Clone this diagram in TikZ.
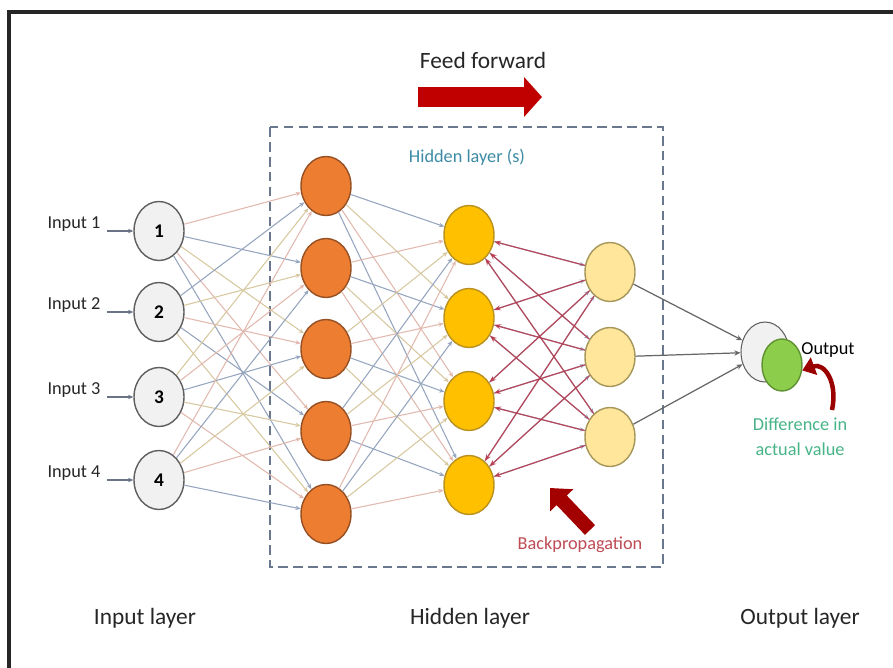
\documentclass[tikz,border=0pt]{standalone}
\usepackage{fontspec}
\setmainfont{Carlito}
\usetikzlibrary{shapes.geometric,arrows.meta}

\definecolor{inpfill}{RGB}{241,241,241}
\definecolor{inpdraw}{RGB}{95,95,95}
\definecolor{orafill}{RGB}{237,125,49}
\definecolor{oradraw}{RGB}{150,80,35}
\definecolor{yelfill}{RGB}{255,192,0}
\definecolor{yeldraw}{RGB}{185,145,30}
\definecolor{palefill}{RGB}{255,230,155}
\definecolor{paledraw}{RGB}{165,150,90}
\definecolor{grnfill}{RGB}{140,205,75}
\definecolor{grndraw}{RGB}{95,145,50}
\definecolor{edgeblue}{RGB}{150,165,190}
\definecolor{edgebeige}{RGB}{215,200,160}
\definecolor{edgepink}{RGB}{225,185,175}
\definecolor{backred}{RGB}{185,55,75}
\definecolor{arrred}{RGB}{192,0,0}
\definecolor{boxgray}{RGB}{105,120,140}
\definecolor{hidteal}{RGB}{60,140,165}
\definecolor{bptxt}{RGB}{190,75,85}
\definecolor{difftxt}{RGB}{70,180,135}

\newcommand{\layerfont}{\fontsize{13.3}{16}\selectfont}
\newcommand{\labfont}{\fontsize{10.4}{12.5}\selectfont}

\tikzset{
  neuron/.style={ellipse,draw,line width=0.8pt,minimum width=1cm,minimum height=1.18cm,inner sep=0pt},
  inp/.style={neuron,fill=inpfill,draw=inpdraw},
  hidA/.style={neuron,fill=orafill,draw=oradraw},
  hidB/.style={neuron,fill=yelfill,draw=yeldraw},
  hidC/.style={neuron,fill=palefill,draw=paledraw},
  lbl/.style={font=\labfont,text=black!85,inner sep=0pt},
  fwd0/.style={draw=edgeblue,line width=0.6pt,-{Stealth[length=3pt,width=2.5pt]}},
  fwd1/.style={draw=edgebeige,line width=0.6pt,-{Stealth[length=3pt,width=2.5pt]}},
  fwd2/.style={draw=edgepink,line width=0.6pt,-{Stealth[length=3pt,width=2.5pt]}},
  back/.style={draw=backred,line width=0.7pt,opacity=0.85,-{Stealth[length=4pt,width=3pt]}},
  outarr/.style={draw=black!60,line width=0.7pt,-{Stealth[length=3.5pt,width=3pt]}},
  inarr/.style={draw=edgeblue!70!black,line width=0.8pt,-{Stealth[length=3pt,width=2.5pt]}},
}

\begin{document}
\begin{tikzpicture}[x=0.02cm,y=-0.02cm]
\useasboundingbox (0,0) rectangle (893,668);
\fill[white] (0,0) rectangle (893,668);
\draw[black!85,line width=1.8pt] (9,668) -- (9,12) -- (893,12);

% hidden layer box
\draw[boxgray,line width=0.8pt,dash pattern=on 5.5pt off 3pt] (270,127) rectangle (663,567);
\node[font=\labfont,text=hidteal] (hidtitle) at (467,157) {Hidden layer (s)};

% input layer
\foreach \i/\y in {1/231,2/312,3/397,4/480} {
  \node[inp] (in\i) at (159,\y) {\fontsize{11}{13}\selectfont\textbf{\i}};
  \node[lbl] (inlbl\i) at (74,\y-7) {Input \i};
  \coordinate (intail\i) at (107,\y);
  \draw[inarr] (intail\i) -- (in\i);
}

% hidden layers
\foreach \i/\y in {1/186,2/268,3/349,4/431,5/514}
  \node[hidA] (a\i) at (326,\y) {};
\foreach \i/\y in {1/235,2/318,3/401,4/485}
  \node[hidB] (b\i) at (469,\y) {};
\foreach \i/\y in {1/272,2/357,3/437}
  \node[hidC] (c\i) at (610,\y) {};

% output
\node[neuron,fill=inpfill,draw=inpdraw,line width=0.6pt,minimum width=0.96cm,minimum height=1.2cm] (outg) at (765,352) {};
\node[neuron,fill=grnfill,draw=grndraw,minimum width=0.8cm,minimum height=1.04cm] (outv) at (782,365) {};
\node[font=\labfont,text=black,inner sep=0pt] (outtxt) at (828,350) {Output};
\node[font=\labfont,text=difftxt,align=center] (difftxt) at (800,437) {Difference in\\[2pt]actual value};

% connections
\foreach \i in {1,...,4}
  \foreach \j in {1,...,5} {
    \pgfmathtruncatemacro\k{mod(\i+\j,3)}
    \draw[fwd\k] (in\i) -- (a\j);
  }
\foreach \i in {1,...,5}
  \foreach \j in {1,...,4} {
    \pgfmathtruncatemacro\k{mod(\i*2+\j,3)}
    \draw[fwd\k] (a\i) -- (b\j);
  }
\foreach \i in {1,...,4}
  \foreach \j in {1,...,3}
    \draw[fwd0] (b\i) -- (c\j);
\foreach \i in {1,...,3}
  \foreach \j in {1,...,4}
    \draw[back] (c\i) -- (b\j);
\foreach \i in {1,...,3}
  \draw[outarr] (c\i) -- (outg);

% big arrows
\coordinate (ffstart) at (418,97);
\coordinate (ffend) at (542,97);
\draw[arrred,line width=0.4cm,-{Triangle[length=0.36cm,width=0.78cm]}] (ffstart) -- (ffend);
\node[font=\layerfont,text=black!85] (fftxt) at (483,60) {Feed forward};

\coordinate (bpstart) at (590,530);
\coordinate (bpend) at (550,488);
\draw[arrred!85!black,line width=0.28cm,-{Triangle[length=0.34cm,width=0.62cm]}] (bpstart) -- (bpend);
\node[font=\labfont,text=bptxt] (bptxt) at (580,545) {Backpropagation};

\coordinate (difftail) at (832,410);
\draw[arrred!80!black,line width=0.09cm,-{Triangle[length=0.25cm,width=0.36cm]}] (difftail) .. controls +(6,-28) and +(22,-8) .. (outv.-15);

% layer names
\node[font=\layerfont,text=black!85] (inlayer) at (145,618) {Input layer};
\node[font=\layerfont,text=black!85] (hidlayer) at (470,618) {Hidden layer};
\node[font=\layerfont,text=black!85] (outlayer) at (800,618) {Output layer};

\end{tikzpicture}
\end{document}
